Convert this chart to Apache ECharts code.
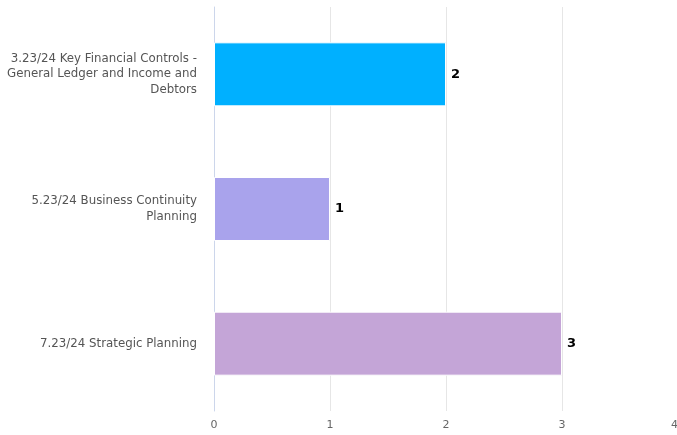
<!DOCTYPE html>
<html><head><meta charset="utf-8">
<script src="https://cdn.jsdelivr.net/npm/echarts@6/dist/echarts.min.js"></script>
<style>html,body{margin:0;padding:0;background:#fff}#c{width:677px;height:435px}</style>
</head><body><div id="c"></div>
<script>
const categories = ["3.23/24 Key Financial Controls -\nGeneral Ledger and Income and\nDebtors", "5.23/24 Business Continuity\nPlanning", "7.23/24 Strategic Planning"];
const values = [2, 1, 3];
const barColors = ["#00B0FF", "#A9A3EC", "#C4A5D7"];
const xTicks = [0, 1, 2, 3, 4];

const chart = echarts.init(document.getElementById('c'), null, {renderer: 'canvas'});
chart.setOption({
  animation: false,
  grid: {left: 214, top: 7, width: 464, height: 404, containLabel: false, outerBoundsMode: 'none'},
  xAxis: {
    type: 'value', min: xTicks[0], max: xTicks[xTicks.length-1], interval: 1,
    axisLine: {show: false}, axisTick: {show: false},
    splitLine: {lineStyle: {color: '#e6e6e6', width: 1}},
    axisLabel: {color: '#666', fontFamily: 'DejaVu Sans', fontSize: 11, margin: 9, alignMaxLabel: 'right'}
  },
  yAxis: {
    type: 'category', data: categories, inverse: true,
    axisLine: {lineStyle: {color: '#ccd6eb', width: 1}},
    axisTick: {show: false},
    axisLabel: {color: '#555', fontFamily: 'DejaVu Sans', fontSize: 11.8, lineHeight: 15.5, margin: 17, align: 'right'}
  },
  series: [{
    type: 'bar', barWidth: 64,
    data: values.map((v, i) => ({value: v, itemStyle: {color: barColors[i]}})),
    itemStyle: {borderColor: '#fff', borderWidth: 1},
    label: {show: true, position: 'right', distance: 5, color: '#000', fontWeight: 'bold', fontFamily: 'DejaVu Sans', fontSize: 13}
  }]
});
</script></body></html>
